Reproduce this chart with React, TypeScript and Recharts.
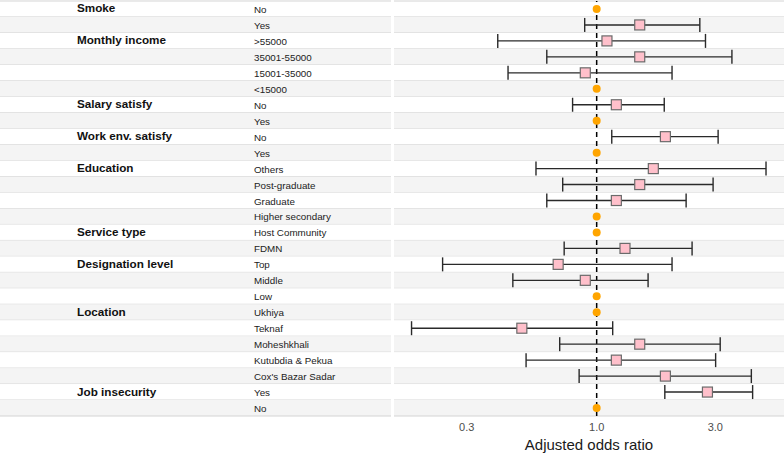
import { ComposedChart, Scatter, ErrorBar, XAxis, YAxis, ReferenceLine, ReferenceArea } from 'recharts'

const groups = [
  'Smoke', '', 'Monthly income', '', '', '', 'Salary satisfy', '', 'Work env. satisfy', '',
  'Education', '', '', '', 'Service type', '', 'Designation level', '', '', 'Location',
  '', '', '', '', 'Job insecurity', '',
]
const levels = [
  'No', 'Yes', '>55000', '35001-55000', '15001-35000', '<15000', 'No', 'Yes', 'No', 'Yes',
  'Others', 'Post-graduate', 'Graduate', 'Higher secondary', 'Host Community', 'FDMN', 'Top', 'Middle', 'Low', 'Ukhiya',
  'Teknaf', 'Moheshkhali', 'Kutubdia & Pekua', "Cox's Bazar Sadar", 'Yes', 'No',
]
// null = reference category (odds ratio 1)
const aor = [
  null, 1.49, 1.1, 1.49, 0.9, null, 1.2, null, 1.89, null,
  1.69, 1.49, 1.2, null, null, 1.3, 0.7, 0.9, null, null,
  0.5, 1.49, 1.2, 1.89, 2.79, null,
]
const lower = [
  null, 0.895, 0.4, 0.63, 0.44, null, 0.8, null, 1.15, null,
  0.57, 0.73, 0.63, null, null, 0.74, 0.24, 0.46, null, null,
  0.18, 0.71, 0.52, 0.85, 1.88, null,
]
const upper = [
  null, 2.6, 2.74, 3.5, 2.01, null, 1.87, null, 3.08, null,
  4.8, 2.94, 2.29, null, null, 2.42, 2.01, 1.61, null, null,
  1.16, 3.14, 3.01, 4.19, 4.24, null,
]
const xTicks = [0.3, 1, 3]

const rows = levels.map((level, i) => ({
  key: `r${i}`,
  group: groups[i],
  level,
  isRef: aor[i] == null,
  or: aor[i] ?? 1,
  err: aor[i] == null ? undefined : [aor[i]! - lower[i]!, upper[i]! - aor[i]!],
}))

const W = 784
const H = 454
const M = { top: 1, right: 0, bottom: 0, left: 0 }
const XH = 38
const band = (H - M.top - M.bottom - XH) / rows.length
const GREY = '#f4f4f4'
const LINE = '#d4d4d4'
const font = 'Arial, "Liberation Sans", Helvetica, sans-serif'

function RowLabel(props: any) {
  const { y, payload } = props
  const i = rows.findIndex((r) => r.key === payload.value)
  const r = rows[i]
  const top = y - band / 2
  return (
    <g>
      <rect x={0} y={top} width={391} height={band} fill={i % 2 ? GREY : '#fff'} />
      {i === 0 && <line x1={0} x2={391} y1={top} y2={top} stroke={LINE} />}
      <line x1={0} x2={391} y1={top + band} y2={top + band} stroke={LINE} />
      {r.group && (
        <text x={77} y={y - 1} fontSize={11.7} fontWeight="bold" fill="#111" dominantBaseline="central" fontFamily={font}>
          {r.group}
        </text>
      )}
      <text x={254} y={y + 0.5} fontSize={9.8} fill="#222" dominantBaseline="central" fontFamily={font}>
        {r.level}
      </text>
    </g>
  )
}

function BandShape(props: any) {
  const { x, y, width, height, idx } = props
  return (
    <g>
      <rect x={x} y={y} width={width} height={height} fill={idx % 2 ? GREY : '#fff'} />
      {idx === 0 && <line x1={x} x2={x + width} y1={y} y2={y} stroke={LINE} />}
      <line x1={x} x2={x + width} y1={y + height} y2={y + height} stroke={LINE} />
    </g>
  )
}

const Marker = (p: any) =>
  p.payload.isRef ? (
    <circle cx={p.cx} cy={p.cy} r={4} fill="#ffa500" />
  ) : (
    <rect x={p.cx - 5} y={p.cy - 5} width={10} height={10} fill="#ffc0cb" stroke="#6b6b6b" strokeWidth={1.2} />
  )

export default function App() {
  return (
    <div style={{ position: 'absolute', left: 0, top: 0, width: W, height: H, fontFamily: font }}>
      <ComposedChart width={W} height={H} data={rows} layout="vertical" margin={M}>
        <XAxis
          type="number"
          dataKey="or"
          scale="log"
          domain={[0.153, 5.67]}
          allowDataOverflow
          ticks={xTicks}
          tickFormatter={(v: number) => v.toFixed(1)}
          axisLine={false}
          tickLine={false}
          tickSize={0}
          tickMargin={7}
          height={XH}
          tick={{ fill: '#4d4d4d', fontSize: 11, fontFamily: font }}
          label={{ value: 'Adjusted odds ratio', position: 'insideBottom', offset: 4, fill: '#1a1a1a', fontSize: 15, fontFamily: font }}
        />
        <YAxis
          type="category"
          dataKey="key"
          scale="band"
          width={394}
          interval={0}
          axisLine={false}
          tickLine={false}
          tick={(p: any) => <RowLabel {...p} />}
        />
        {rows.map((r, i) => (
          <ReferenceArea key={r.key} y1={r.key} y2={r.key} shape={(p: any) => <BandShape {...p} idx={i} />} />
        ))}
        <ReferenceLine x={1} stroke="#000" strokeWidth={1.5} strokeDasharray="5 4" />
        <Scatter dataKey="or" shape={Marker} isAnimationActive={false}>
          <ErrorBar dataKey="err" direction="x" width={7} stroke="#2a2a2a" strokeWidth={1.4} />
        </Scatter>
      </ComposedChart>
    </div>
  )
}
